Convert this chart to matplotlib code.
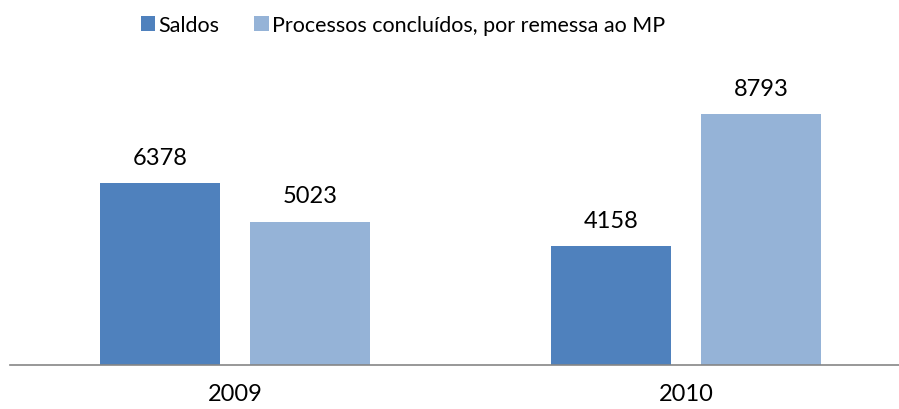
import matplotlib
matplotlib.use("Agg")
import matplotlib.pyplot as plt
from matplotlib.patches import Patch
import numpy as np

plt.rcParams['font.family'] = ['Lato', 'DejaVu Sans']

categories = ["2009", "2010"]
series_names = ["Saldos", "Processos concluídos, por remessa ao MP"]
saldos = [6378, 4158]
processos = [5023, 8793]
colors = ["#4F81BD", "#95B3D7"]

fig = plt.figure(figsize=(8.99, 4.10), dpi=100)
ax = fig.add_axes([10/899, 1-366/410, 889/899, 285.5/410])

x = np.arange(len(categories))
w = 120/451
off = 75/451
b1 = ax.bar(x - off, saldos, w, color=colors[0])
b2 = ax.bar(x + off, processos, w, color=colors[1])

for bars, vals in ((b1, saldos), (b2, processos)):
    for r, v in zip(bars, vals):
        ax.annotate(str(v), (r.get_x() + r.get_width()/2, r.get_height()),
                    xytext=(0, 11), textcoords="offset points",
                    ha="center", va="bottom", fontsize=17, color="black")

ax.set_xlim(-225/451, 664/451)
ax.set_ylim(0, 10000)
ax.set_xticks(x)
ax.set_xticklabels(categories, fontsize=17)
ax.tick_params(axis='x', length=0, pad=13)
ax.set_yticks([])
for s in ("top", "right", "left"):
    ax.spines[s].set_visible(False)
ax.spines["bottom"].set_color("#868686")
ax.spines["bottom"].set_linewidth(1.2)

handles = [Patch(facecolor=c, edgecolor='none') for c in colors]
fig.legend(handles, series_names, loc="center", bbox_to_anchor=(403/899, 1-26/410),
           ncol=2, frameon=False, handlelength=0.68, handleheight=0.68,
           handletextpad=0.15, columnspacing=1.6, fontsize=15.5)

fig.savefig("out.png", dpi=100)
